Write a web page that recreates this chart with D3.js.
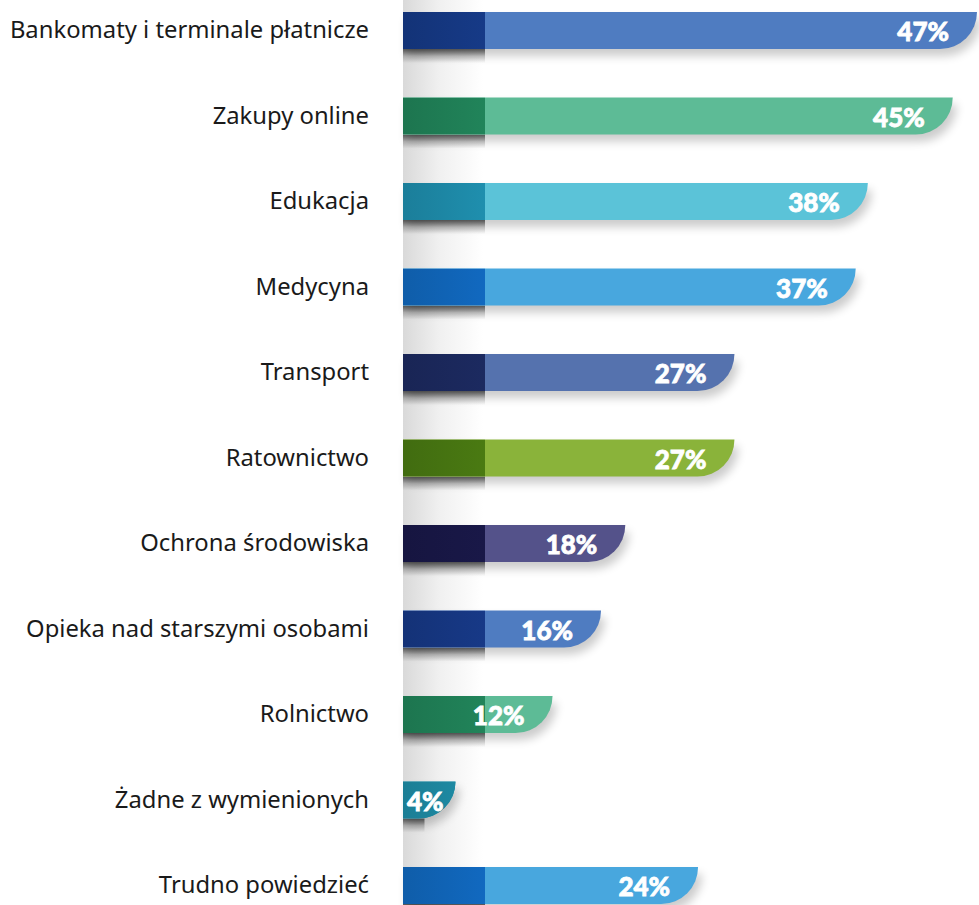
<!DOCTYPE html>
<html>
<head>
<meta charset="utf-8">
<script src="https://cdn.jsdelivr.net/npm/d3@7/dist/d3.min.js"></script>
<style>
  html, body { margin: 0; padding: 0; background: #ffffff; overflow: hidden; }
  svg { display: block; }
</style>
</head>
<body>
<svg id="chart" width="979" height="905"></svg>
<script>
// Categories (top to bottom) and their shares in percent
const categories = [
  "Bankomaty i terminale płatnicze",
  "Zakupy online",
  "Edukacja",
  "Medycyna",
  "Transport",
  "Ratownictwo",
  "Ochrona środowiska",
  "Opieka nad starszymi osobami",
  "Rolnictwo",
  "Żadne z wymienionych",
  "Trudno powiedzieć"
];
const values = [47, 45, 38, 37, 27, 27, 18, 16, 12, 4, 24];

// Colour pair for every bar: darker head segment, lighter body
const headColors = ["#163a87", "#21845a", "#1f8fae", "#1169c0", "#1c2a60", "#4a7a12", "#191848", "#173987", "#21845a", "#1f8fa9", "#1169c0"];
const bodyColors = ["#4f7cc1", "#5dbb96", "#5bc3d8", "#48a7de", "#5572ae", "#8ab33a", "#54528a", "#4f7cc1", "#5dbb96", "#1f8fa9", "#48a7de"];

const svg = d3.select("#chart");
const W = 979, H = 905;

const x = d3.scaleLinear().domain([0, 47]).range([407, 977]);
const y = d3.scaleBand().domain(categories).range([12, 904]).paddingInner(0.567).paddingOuter(0);
const bh = y.bandwidth();
const x0 = 403;           // left edge of every bar
const headW = 82;         // width of the dark head segment
const labelX = 369;       // right edge of category labels

const defs = svg.append("defs");

function barPath(v, top) {
  const xe = x(v);
  const r = Math.min(bh, xe - x0);
  const bottom = top + bh;
  return `M${x0},${top}H${xe}A${r},${bh} 0 0 1 ${xe - r},${bottom}H${x0}Z`;
}

// soft grey fold to the right of the bar origin
const fold = defs.append("linearGradient").attr("id", "fold").attr("x1", 0).attr("x2", 1).attr("y1", 0).attr("y2", 0);
fold.append("stop").attr("offset", 0).attr("stop-color", "#d9d9d9");
fold.append("stop").attr("offset", 0.45).attr("stop-color", "#f0f0f0");
fold.append("stop").attr("offset", 1).attr("stop-color", "#ffffff");

// shadow cast below the dark heads
const shDark = defs.append("linearGradient").attr("id", "shDark").attr("x1", 0).attr("x2", 0).attr("y1", 0).attr("y2", 1);
shDark.append("stop").attr("offset", 0).attr("stop-color", "#000").attr("stop-opacity", 0.6);
shDark.append("stop").attr("offset", 0.5).attr("stop-color", "#000").attr("stop-opacity", 0.2);
shDark.append("stop").attr("offset", 1).attr("stop-color", "#000").attr("stop-opacity", 0);

// blurred shadow that follows the whole bar shape
const blur = defs.append("filter").attr("id", "blur").attr("x", "-10%").attr("y", "-50%").attr("width", "130%").attr("height", "220%");
blur.append("feGaussianBlur").attr("stdDeviation", 5);

// head segment gradients (slightly darker on the left)
categories.forEach((c, i) => {
  const g = defs.append("linearGradient").attr("id", "head" + i).attr("x1", 0).attr("x2", 1).attr("y1", 0).attr("y2", 0);
  g.append("stop").attr("offset", 0).attr("stop-color", d3.color(headColors[i]).darker(0.35));
  g.append("stop").attr("offset", 1).attr("stop-color", headColors[i]);
  const cp = defs.append("clipPath").attr("id", "clip" + i);
  cp.append("path").attr("d", barPath(values[i], y(c)));
});

svg.append("rect").attr("x", x0).attr("y", 0).attr("width", 80).attr("height", H).attr("fill", "url(#fold)");

const rows = svg.append("g").selectAll("g").data(categories).join("g");

// soft shadows below the bars
rows.append("path")
  .attr("d", (c, i) => barPath(values[i], y(c)))
  .attr("transform", "translate(4,7)")
  .attr("fill", "#000")
  .attr("opacity", 0.2)
  .attr("filter", "url(#blur)");

rows.each(function (c, i) {
  const top = y(c), bottom = top + bh;
  const xe = x(values[i]);
  const r = Math.min(bh, xe - x0);
  const headEnd = Math.min(x0 + headW, xe - r + 6);
  d3.select(this).append("rect")
    .attr("x", x0).attr("y", bottom)
    .attr("width", Math.max(0, headEnd - x0)).attr("height", 14)
    .attr("fill", "url(#shDark)");
});

// bar bodies
rows.append("path")
  .attr("d", (c, i) => barPath(values[i], y(c)))
  .attr("fill", (c, i) => bodyColors[i]);

// dark heads clipped to the bar shape
rows.append("rect")
  .attr("x", x0)
  .attr("y", c => y(c))
  .attr("width", headW)
  .attr("height", bh)
  .attr("fill", (c, i) => `url(#head${i})`)
  .attr("clip-path", (c, i) => `url(#clip${i})`);

// category labels
rows.append("text")
  .attr("x", labelX)
  .attr("y", c => y(c) + bh / 2 - 1)
  .attr("dy", "0.36em")
  .attr("text-anchor", "end")
  .attr("fill", "#1a1a1a")
  .style("font-family", "'Noto Sans', sans-serif")
  .style("font-size", "23.8px")
  .text(c => c);

// value labels
rows.append("text")
  .attr("class", "val")
  .attr("y", c => y(c) + bh / 2 + 1.5)
  .attr("dy", "0.36em")
  .attr("text-anchor", "end")
  .attr("fill", "#ffffff")
  .attr("stroke", "#ffffff")
  .attr("stroke-width", 0.8)
  .style("font-family", "Lato, sans-serif")
  .style("font-weight", 900)
  .style("font-size", "26px")
  .text((c, i) => values[i] + "%")
  .each(function (c, i) {
    const w = this.getComputedTextLength();
    const xe = x(values[i]);
    this.setAttribute("x", Math.max(xe - 28, x0 + 4 + w));
  });
</script>
</body>
</html>
